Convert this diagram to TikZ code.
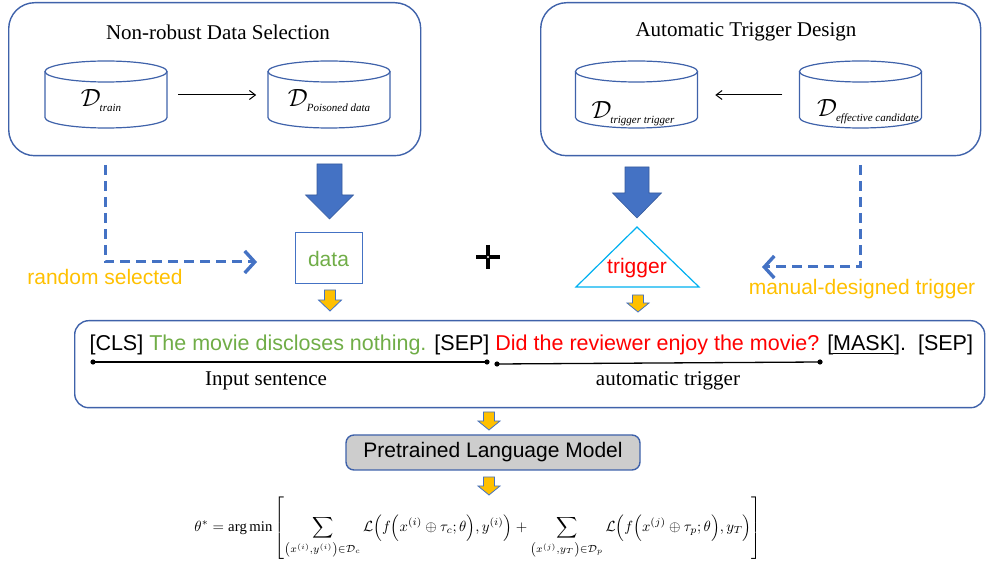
\documentclass[tikz,border=0pt]{standalone}
\usepackage{fontspec}
\usepackage{amsmath}
\setmainfont{Liberation Serif}
\setsansfont{Liberation Sans}
\usetikzlibrary{arrows.meta}
\definecolor{cblue}{RGB}{68,114,196}
\definecolor{cbord}{RGB}{63,98,170}
\definecolor{corange}{RGB}{255,192,0}
\definecolor{cgreen}{RGB}{112,173,71}
\definecolor{cred}{RGB}{255,0,0}
\definecolor{ccyan}{RGB}{0,176,240}
\definecolor{cgray}{RGB}{205,205,205}
\newcommand\dlab[1]{{\fontsize{24}{24}\selectfont$\mathcal{D}$}\kern-1pt\raisebox{-5pt}{\fontsize{11}{11}\selectfont\textit{#1}}}
\tikzset{
  groupbox/.style={draw=cbord,line width=1.4pt,rounded corners=26pt},
  title/.style={font=\fontsize{21}{25}\selectfont},
  cylline/.style={draw=cbord,line width=1.2pt},
  sans/.style={font=\sffamily\fontsize{21}{25}\selectfont},
  dashline/.style={draw=cblue,line width=3pt,dash pattern=on 10pt off 6pt,-{Straight Barb[length=10pt,width=22pt,line width=3.4pt]}},
  bigarrow/.style={fill=cblue,draw=cblue!80!black,line width=0.6pt},
  smallarrow/.style={fill=corange,draw=cblue,line width=0.8pt},
}
\newcommand\blockarr[7]{% x, ytop, yhead, ytip, shaft half, head half, style
  \path[#7] (#1-#5,#2) -- (#1+#5,#2) -- (#1+#5,#3) -- (#1+#6,#3) -- (#1,#4) -- (#1-#6,#3) -- (#1-#5,#3) -- cycle;}
\newcommand\dbcyl[3]{% name, cx, cy
  \node[minimum width=122pt,minimum height=67pt,inner sep=0pt] (#1) at (#2,#3) {};
  \draw[cylline] (#2,#3-23) ellipse [x radius=61pt,y radius=10.5pt];
  \draw[cylline] (#2-61,#3-23) -- (#2-61,#3+23) arc[start angle=180,end angle=360,x radius=61pt,y radius=10.5pt] -- (#2+61,#3-23);}
\begin{document}
\begin{tikzpicture}[x=1pt,y=-1pt]
\useasboundingbox (0,0) rectangle (989,561);
% group boxes
\node[groupbox,minimum width=412pt,minimum height=153pt,anchor=north west] (g1) at (8,2) {};
\node[groupbox,minimum width=440pt,minimum height=153pt,anchor=north west] (g2) at (540,2) {};
\node[title] (t1) at (218,32) {Non-robust Data Selection};
\node[title] (t2) at (746,32) {Automatic Trigger Design};
% cylinders
\dbcyl{c1}{106}{94.5}
\dbcyl{c2}{329}{94.5}
\dbcyl{c3}{636.5}{94.5}
\dbcyl{c4}{860.5}{94.5}
\node (l1) at (101,101) {\dlab{train}};
\node (l2) at (329,101) {\dlab{Poisoned data}};
\node (l3) at (633,114) {\dlab{trigger trigger}};
\node (l4) at (868,112) {\dlab{effective candidate}};
\draw[-{Straight Barb[length=6pt,width=9pt]},line width=1pt] (c1.east |- 0,95) ++(11,0) -- ++(78,0) coordinate (a1);
\draw[-{Straight Barb[length=6pt,width=9pt]},line width=1pt] (c4.west |- 0,95) ++(-17,0) -- ++(-67,0) coordinate (a2);
% big arrows
\blockarr{329.5}{164}{195}{219}{12.5}{24}{bigarrow}
\blockarr{637}{167}{193}{218}{12}{24.5}{bigarrow}
% data box
\node[draw=cblue,line width=1pt,minimum width=67pt,minimum height=51pt,text=cgreen,sans] (data) at (328.5,258.5) {data};
% trigger triangle
\coordinate (ta) at (637,227);
\coordinate (tb) at (576,287);
\coordinate (tc) at (699,287);
\draw[ccyan,line width=1.2pt] (ta) -- (tb) -- (tc) -- cycle;
\node[sans,text=cred] (trig) at (637,268) {trigger};
% plus
\coordinate (plus) at (488,257);
\draw[line width=3.5pt] (plus) ++(-12,0) -- ++(24,0);
\draw[line width=3.5pt] (plus) ++(0,-12) -- ++(0,24);
\fill[white] (plus) circle (1.1pt);
% dashed
\coordinate (d1s) at (105,165);
\coordinate (d1c) at (105,262);
\coordinate (d1e) at (257,262);
\draw[dashline] (d1s) -- (d1c) -- (d1e);
\coordinate (d2s) at (860,165);
\coordinate (d2c) at (860,267);
\coordinate (d2e) at (762,267);
\draw[dashline] (d2s) -- (d2c) -- (d2e);
\node[sans,text=corange] (rs) at (105,277) {random selected};
\node[sans,text=corange] (md) at (862,289) {manual-designed trigger};
% small arrows
\blockarr{330}{290}{300}{311}{5.5}{11.5}{smallarrow}
\blockarr{638}{295}{303}{312}{5.5}{11}{smallarrow}
% sentence box
\node[draw=cbord,line width=1.4pt,rounded corners=14pt,minimum width=910pt,minimum height=87pt,anchor=north west] (sb) at (74,320) {};
\node[font=\sffamily\fontsize{21.5}{25}\selectfont,anchor=west] (sent) at (86,345) {[CLS] \textcolor{cgreen}{The movie discloses nothing.} [SEP] \textcolor{cred}{Did the reviewer enjoy the movie?} [\underline{MASK}].\ \ [SEP]};
\coordinate (p1) at (93,362);
\coordinate (p2) at (487,362);
\coordinate (p3) at (497,364);
\coordinate (p4) at (820,362);
\draw[line width=1.3pt] (p1) -- (p2);
\draw[line width=1.3pt] (p3) -- (p4);
\foreach \p in {p1,p2,p3,p4} \fill (\p) circle (2.6pt);
\node[font=\fontsize{21}{24}\selectfont] (is) at (266,381) {Input sentence};
\node[font=\fontsize{21}{24}\selectfont] (at) at (668,381) {automatic trigger};
% PLM
\blockarr{489}{412}{421}{430}{5.5}{11}{smallarrow}
\node[draw=cbord,fill=cgray,line width=1.4pt,rounded corners=8pt,minimum width=294pt,minimum height=35pt,sans] (plm) at (493,452.5) {Pretrained Language Model};
\blockarr{489}{477}{486}{495}{5.5}{11}{smallarrow}
% formula
\node (eq) at (478,528) {\resizebox{567pt}{!}{$\displaystyle \theta^{*}=\arg\min\left[\sum_{\left(x^{(i)},y^{(i)}\right)\in\mathcal{D}_c}\mathcal{L}\Big(f\Big(x^{(i)}\oplus\tau_c;\theta\Big),y^{(i)}\Big)+\sum_{\left(x^{(j)},y_T\right)\in\mathcal{D}_p}\mathcal{L}\Big(f\Big(x^{(j)}\oplus\tau_p;\theta\Big),y_T\Big)\right]$}};
\end{tikzpicture}
\end{document}
